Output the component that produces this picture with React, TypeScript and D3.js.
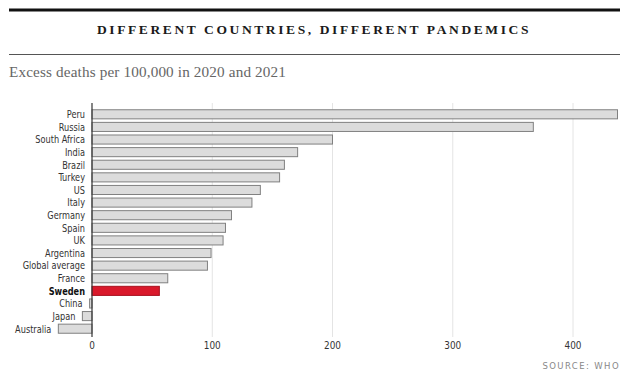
import React, { useEffect, useRef } from 'react';
import * as d3 from 'd3';

const countries = ['Peru', 'Russia', 'South Africa', 'India', 'Brazil', 'Turkey', 'US', 'Italy', 'Germany', 'Spain', 'UK', 'Argentina', 'Global average', 'France', 'Sweden', 'China', 'Japan', 'Australia'];
const excessDeaths = [437, 367, 200, 171, 160, 156, 140, 133, 116, 111, 109, 99, 96, 63, 56, -2, -8, -28];
const xTicks = [0, 100, 200, 300, 400];
const highlight = 'Sweden';

const W = 634, H = 390;

export default function App() {
  const ref = useRef<SVGSVGElement>(null);

  useEffect(() => {
    const svg = d3.select(ref.current);
    svg.selectAll('*').remove();

    const x = d3.scaleLinear().domain([0, 400]).range([92, 573]);
    const y = d3.scaleBand().domain(countries).range([108, 335]).paddingInner(0.28).paddingOuter(0.14);

    svg.append('rect').attr('width', W).attr('height', H).attr('fill', '#fff');

    // header
    svg.append('rect').attr('x', 9).attr('y', 8.5).attr('width', 611).attr('height', 3).attr('fill', '#111');
    svg.append('text')
      .attr('x', 314).attr('y', 33.5)
      .attr('text-anchor', 'middle')
      .attr('font-family', 'Liberation Serif, DejaVu Serif, serif')
      .attr('font-weight', 'bold').attr('font-size', 13.5)
      .attr('letter-spacing', '2.6px')
      .attr('fill', '#1a1a1a')
      .text('DIFFERENT COUNTRIES, DIFFERENT PANDEMICS');
    svg.append('line').attr('x1', 9).attr('x2', 620).attr('y1', 54.5).attr('y2', 54.5)
      .attr('stroke', '#555').attr('stroke-width', 1);
    svg.append('text')
      .attr('x', 9).attr('y', 76.5)
      .attr('font-family', 'Liberation Serif, DejaVu Serif, serif')
      .attr('font-size', 15.2).attr('fill', '#666')
      .attr('letter-spacing', '0.15px')
      .text('Excess deaths per 100,000 in 2020 and 2021');

    // grid
    svg.append('g').selectAll('line')
      .data(xTicks.filter(t => t !== 0))
      .enter().append('line')
      .attr('x1', d => x(d)).attr('x2', d => x(d))
      .attr('y1', 103).attr('y2', 337)
      .attr('stroke', '#e4e4e4').attr('stroke-width', 1);

    // bars
    svg.append('g').selectAll('rect')
      .data(countries)
      .enter().append('rect')
      .attr('x', (d, i) => Math.min(x(0), x(excessDeaths[i])))
      .attr('y', d => y(d)!)
      .attr('width', (d, i) => Math.abs(x(excessDeaths[i]) - x(0)))
      .attr('height', y.bandwidth())
      .attr('fill', d => d === highlight ? '#d9192b' : '#dcdcdc')
      .attr('stroke', d => d === highlight ? '#a8101e' : '#808080')
      .attr('stroke-width', 1);

    // zero axis
    svg.append('line').attr('x1', x(0)).attr('x2', x(0)).attr('y1', 103).attr('y2', 337)
      .attr('stroke', '#333').attr('stroke-width', 1.2);

    // labels (narrow face, squeezed horizontally)
    svg.append('g').selectAll('text')
      .data(countries)
      .enter().append('text')
      .attr('transform', (d, i) => {
        const lx = Math.min(x(0), x(excessDeaths[i])) - 7;
        const ly = y(d)! + y.bandwidth() / 2;
        return `translate(${lx},${ly}) scale(0.86,1)`;
      })
      .attr('dy', '0.36em')
      .attr('text-anchor', 'end')
      .attr('font-family', 'DejaVu Sans Condensed, DejaVu Sans, sans-serif')
      .attr('font-size', 10.6)
      .attr('font-weight', d => d === highlight ? 'bold' : 'normal')
      .attr('fill', d => d === highlight ? '#111' : '#333')
      .text(d => d);

    // tick labels
    svg.append('g').selectAll('text')
      .data(xTicks)
      .enter().append('text')
      .attr('transform', d => `translate(${x(d)},349) scale(0.9,1)`)
      .attr('text-anchor', 'middle')
      .attr('font-family', 'DejaVu Sans Condensed, DejaVu Sans, sans-serif')
      .attr('font-size', 11).attr('fill', '#333')
      .text(d => d);

    svg.append('text')
      .attr('x', 620).attr('y', 369)
      .attr('text-anchor', 'end')
      .attr('font-family', 'DejaVu Sans, sans-serif')
      .attr('font-size', 8.5).attr('fill', '#888')
      .attr('letter-spacing', '1.4px')
      .text('SOURCE: WHO');
  }, []);

  return <svg ref={ref} width={W} height={H} style={{ position: 'absolute', left: 0, top: 0, display: 'block' }} />;
}
